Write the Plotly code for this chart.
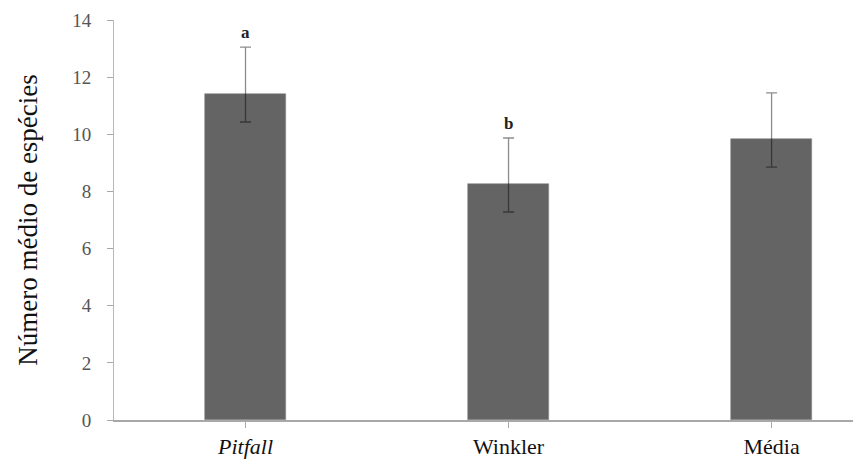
import plotly.graph_objects as go

categories = ["<i>Pitfall</i>", "Winkler", "Média"]
means = [11.4, 8.25, 9.82]
err_plus = [1.65, 1.62, 1.63]
err_minus = [0.97, 0.97, 0.97]
letters = ["a", "b", ""]
y_ticks = [0, 2, 4, 6, 8, 10, 12, 14]

SERIF = "Liberation Serif, Times New Roman, serif"

fig = go.Figure()
fig.add_trace(go.Bar(
    x=[0, 1, 2], y=means, width=0.305,
    marker=dict(color="#646464", line=dict(color="#8a8a8a", width=0.6)),
    error_y=dict(type="data", symmetric=False, array=err_plus, arrayminus=err_minus,
                 color="rgba(0,0,0,0.45)", thickness=1.3, width=5.5),
    showlegend=False, hoverinfo="skip",
))

for i, (m, ep, lt) in enumerate(zip(means, err_plus, letters)):
    if lt:
        fig.add_annotation(x=i, y=m + ep, text="<b>" + lt + "</b>", showarrow=False,
                           yanchor="bottom", yshift=3,
                           font=dict(family=SERIF, size=17, color="#222"))

# page body adds an 8px margin, so the figure is sized to fit inside the window
fig.update_layout(
    width=853, height=453,
    margin=dict(l=106, r=0, t=12, b=41),
    paper_bgcolor="white", plot_bgcolor="white",
    bargap=0,
    font=dict(family=SERIF),
    xaxis=dict(
        range=[-0.5, 2.34], tickmode="array", tickvals=[0, 1, 2], ticktext=categories,
        showline=True, linecolor="#a8a8a8", linewidth=1.5,
        ticks="outside", tickson="boundaries", ticklen=6, tickcolor="#a8a8a8",
        showgrid=False, zeroline=False,
        tickfont=dict(family=SERIF, size=22, color="#111"),
    ),
    yaxis=dict(
        range=[0, 14], tickvals=y_ticks,
        showline=True, linecolor="#b8b8b8", linewidth=1,
        ticks="outside", ticklen=6, tickcolor="#a8a8a8",
        showgrid=False, zeroline=False,
        ticklabelstandoff=12,
        tickfont=dict(family=SERIF, size=19, color="#555"),
        title=dict(text="Número médio de espécies", standoff=26,
                   font=dict(family=SERIF, size=27, color="#111")),
    ),
)

fig.write_html("out.html")
